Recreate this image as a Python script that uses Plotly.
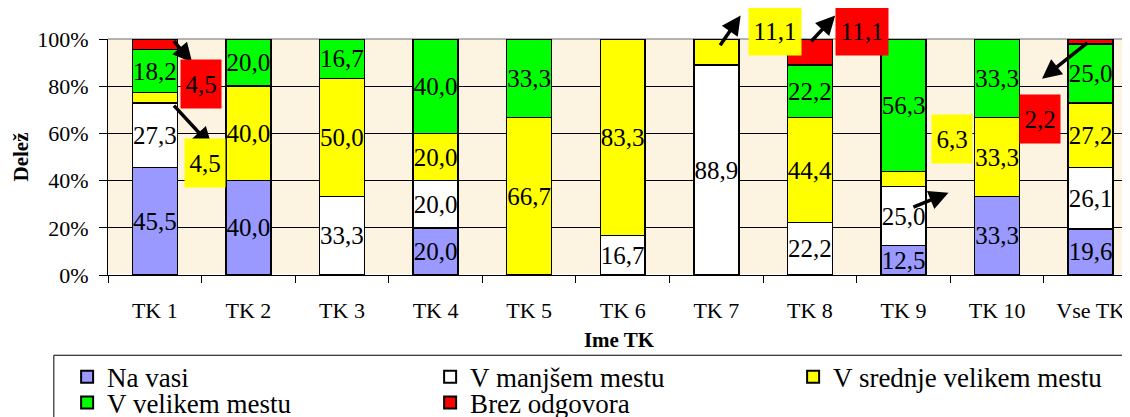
import plotly.graph_objects as go

FONT = "Liberation Serif"

categories = ["TK 1", "TK 2", "TK 3", "TK 4", "TK 5", "TK 6", "TK 7", "TK 8", "TK 9", "TK 10", "Vse TK"]

na_vasi = [45.5, 40.0, 0, 20.0, 0, 0, 0, 0, 12.5, 33.3, 19.6]
manjse_mesto = [27.3, 0, 33.3, 20.0, 0, 16.7, 88.9, 22.2, 25.0, 0, 26.1]
srednje_mesto = [4.5, 40.0, 50.0, 20.0, 66.7, 83.3, 11.1, 44.4, 6.3, 33.3, 27.2]
veliko_mesto = [18.2, 20.0, 16.7, 40.0, 33.3, 0, 0, 22.2, 56.3, 33.3, 25.0]
brez_odgovora = [4.5, 0, 0, 0, 0, 0, 0, 11.1, 0, 0, 2.2]

series = [
    ("Na vasi", na_vasi, "#9999FF", "legend"),
    ("V manjšem mestu", manjse_mesto, "#FFFFFF", "legend"),
    ("V srednje velikem mestu", srednje_mesto, "#FFFF00", "legend"),
    ("V velikem mestu", veliko_mesto, "#00FF00", "legend2"),
    ("Brez odgovora", brez_odgovora, "#FF0000", "legend2"),
]

# segments too thin for an inside label -> labelled with arrow callouts instead
callouts = [
    # (category index, series index, label dx, label y, tail dx, tail y, head dx, head y, box w)
    (0, 4, 0.49, 81, 0.19, 99.7, 0.40, 90, 38),
    (0, 2, 0.54, 47.6, 0.19, 72.4, 0.61, 54.4, 38),
    (6, 2, 0.63, 103.5, 0.03, 96.7, 0.26, 110, 50),
    (7, 4, 0.56, 103.5, 0.0, 98.4, 0.27, 110, 50),
    (8, 2, 0.52, 57.8, 0.09, 28.5, 0.48, 34.9, 38),
    (10, 4, -0.54, 66.2, -0.02, 98.9, -0.52, 83.2, 38),
]
hidden = {(c, s) for c, s, *_ in callouts}


def fmt(v):
    return f"{v:.1f}".replace(".", ",")


fig = go.Figure()
for si, (name, vals, color, leg) in enumerate(series):
    text = ["" if (v == 0 or (ci, si) in hidden) else fmt(v) for ci, v in enumerate(vals)]
    fig.add_bar(
        name=name, x=categories, y=vals, legend=leg,
        marker=dict(color=color, line=dict(color="black", width=1.5)),
        text=text, textposition="inside", insidetextanchor="middle", textangle=0,
        constraintext="none", textfont=dict(family=FONT, size=25, color="black"), width=0.48,
    )

for ci, si, lx, ly, tx, ty, hx, hy, bw in callouts:
    name, vals, color, _ = series[si]
    fig.add_annotation(x=ci + hx, y=hy / 100, ax=ci + tx, ay=ty / 100, axref="x", ayref="y domain",
                       xref="x", yref="y domain", text="", showarrow=True, arrowhead=2,
                       arrowsize=1.1, arrowwidth=3.5, arrowcolor="black")
    fig.add_annotation(x=ci + lx, y=ly / 100, xref="x", yref="y domain", text=fmt(vals[ci]),
                       xanchor="center", yanchor="middle", showarrow=False, bgcolor=color,
                       width=bw, height=46, font=dict(family=FONT, size=25, color="black"))

# top border of the plot area is grey in the original
fig.add_shape(type="line", xref="paper", yref="y domain", x0=0, x1=1, y0=1, y1=1,
              layer="between", line=dict(color="#9a9a9a", width=1.5))

# legend frame (runs off the right and bottom edges like the original)
fig.add_shape(type="rect", xref="paper", yref="paper", x0=-0.053, x1=1.05, y0=-0.34, y1=-0.7,
              line=dict(color="black", width=1), fillcolor="rgba(0,0,0,0)")

leg_common = dict(orientation="h", xanchor="left", yanchor="top", traceorder="normal",
                  entrywidth=318, entrywidthmode="pixels", bgcolor="rgba(0,0,0,0)",
                  borderwidth=0, font=dict(family=FONT, size=27), itemsizing="constant")

# the page body has an 8px margin, so the figure is 8px smaller than the window
fig.update_layout(
    barmode="stack", barnorm="percent", width=1122, height=409,
    margin=dict(l=100, r=0, t=31, b=142, autoexpand=False),
    paper_bgcolor="white", plot_bgcolor="#FCF3E1",
    font=dict(family=FONT, size=22, color="black"),
    showlegend=True,
    legend=dict(x=-0.040, y=-0.329, **leg_common),
    legend2=dict(x=-0.040, y=-0.438, **leg_common),
)
fig.update_xaxes(
    type="category", range=[-0.5, 10.42], showline=True, linecolor="black", linewidth=1,
    ticks="outside", tickson="boundaries", ticklen=7, tickcolor="black", ticklabelstandoff=16,
    automargin=False, title=dict(text="<b>Ime TK</b>", font=dict(size=21), standoff=9),
)
fig.update_yaxes(
    range=[0, 100], dtick=20, ticksuffix="%", showline=True, linecolor="black", linewidth=1,
    ticks="outside", ticklen=8, tickcolor="black", gridcolor="black", gridwidth=1,
    ticklabelstandoff=6,
    automargin=False, title=dict(text="<b>Delež</b>", font=dict(size=21), standoff=2),
)

fig.write_html("out.html")
